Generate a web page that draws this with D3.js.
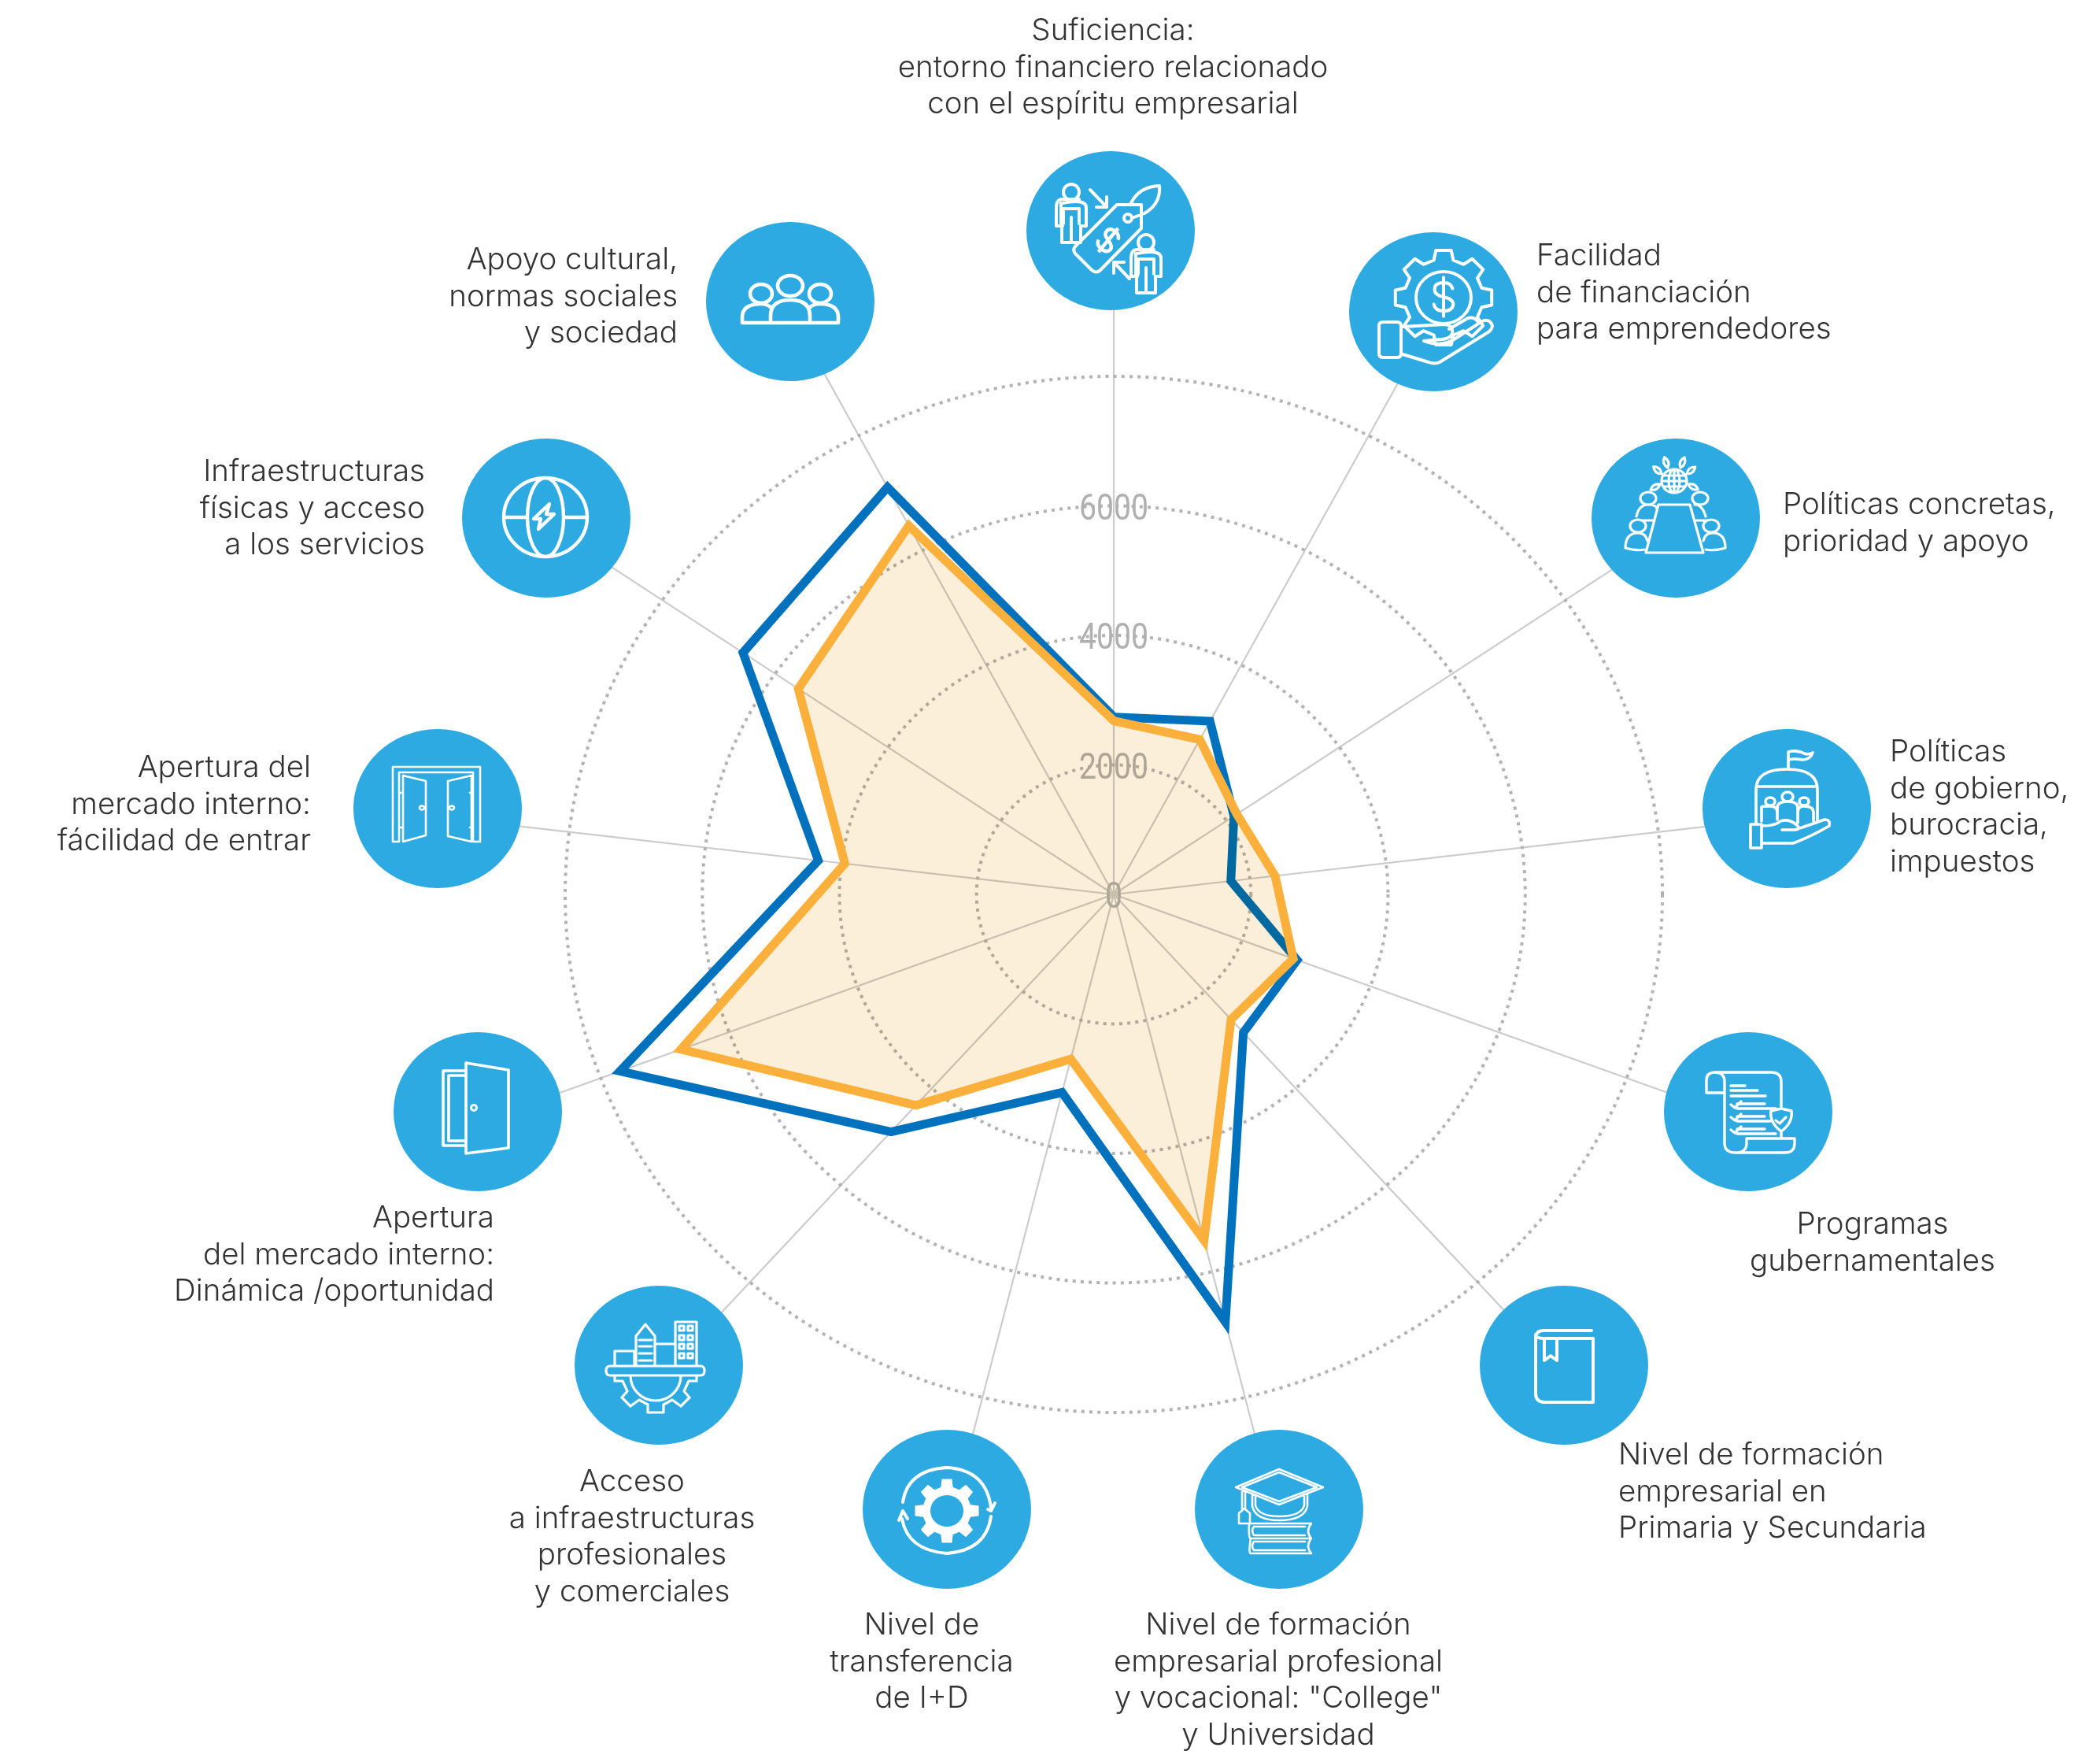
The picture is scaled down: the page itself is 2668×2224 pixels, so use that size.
<!DOCTYPE html>
<html><head><meta charset="utf-8">
<script src="https://cdn.jsdelivr.net/npm/d3@7"></script>
<style>html,body{margin:0;padding:0;background:#fff}svg{display:block}</style></head>
<body><svg id="c" width="2668" height="2224"></svg>
<script>
// ---- data ----
const categories = ["Suficiencia","Facilidad de financiación","Políticas concretas","Políticas de gobierno","Programas gubernamentales","Formación Primaria y Secundaria","Formación profesional y Universidad","Transferencia I+D","Infraestructuras profesionales","Apertura: dinámica","Apertura: facilidad","Infraestructuras físicas","Apoyo cultural"];
const seriesBlue = [2740,3020,2130,1720,2860,2850,6800,3150,4900,7700,4340,6570,7100];
const seriesOrange = [2680,2700,2180,2370,2800,2580,5500,2620,4350,6750,3950,5590,6430];
const tickValues = [2000,4000,6000,8000];
const tickLabels = ["0","2000","4000","6000"];
const labelLines = [
 ["Suficiencia:","entorno financiero relacionado","con el espíritu empresarial"],
 ["Facilidad","de financiación","para emprendedores"],
 ["Políticas concretas,","prioridad y apoyo"],
 ["Políticas","de gobierno,","burocracia,","impuestos"],
 ["Programas","gubernamentales"],
 ["Nivel de formación","empresarial en","Primaria y Secundaria"],
 ["Nivel de formación","empresarial profesional","y vocacional: \"College\"","y Universidad"],
 ["Nivel de","transferencia","de I+D"],
 ["Acceso","a infraestructuras","profesionales","y comerciales"],
 ["Apertura","del mercado interno:","Dinámica /oportunidad"],
 ["Apertura del","mercado interno:","fácilidad de entrar"],
 ["Infraestructuras","físicas y acceso","a los servicios"],
 ["Apoyo cultural,","normas sociales","y sociedad"]
];
// ---- layout ----
const cx=1415, cy=1136, W=2668;
const labelAnchor=["middle","start","start","start","middle","start","middle","middle","middle","end","end","end","end"];
const labelX=[1414,1952,2265,2401,2379,2056,1624,1171,803,628,395,540,861];
const labelY=[51,337,653,967,1567,1860,2076,2076,1894,1559,987,611,342];
const labelEndShift=[0,0,0,0,0,0,0,0,0,0,0,0,0];
const iconXY=[[1411,293],[1821,396],[2129,658],[2270,1027],[2221,1412],[1987,1734],[1625,1917],[1203,1917],[837,1734],[607,1412],[556,1027],[694,658],[1004,383]];
const BLUE="#0071BC", ORANGE="#FBB03B", CIRCLE="#2DAAE1", GRID="#CCCCCC", RING="#B3B3B3", TXT="#333333";
const rx=d3.scaleLinear().domain([0,8000]).range([0,697]);
const ry=d3.scaleLinear().domain([0,8000]).range([0,658]);
const angle=d3.scaleLinear().domain([0,categories.length]).range([0,2*Math.PI]);
const px=(v,i)=>cx+rx(v)*Math.sin(angle(i));
const py=(v,i)=>cy-ry(v)*Math.cos(angle(i));
const svg=d3.select("#c");
// axes
svg.append("g").selectAll("line").data(categories).join("line")
 .attr("x1",cx).attr("y1",cy).attr("x2",(d,i)=>px(9500,i)).attr("y2",(d,i)=>py(9500,i))
 .attr("stroke",GRID).attr("stroke-width",2.2);
// rings
svg.append("g").selectAll("ellipse").data(tickValues).join("ellipse")
 .attr("cx",cx).attr("cy",cy).attr("rx",d=>rx(d)).attr("ry",d=>ry(d))
 .attr("fill","none").attr("stroke",RING).attr("stroke-width",4).attr("stroke-dasharray","4 6.2");
// tick labels
svg.append("g").selectAll("text").data(tickLabels).join("text")
 .text(d=>d).attr("x",cx).attr("y",(d,i)=>cy-ry(i*2000)+17)
 .attr("text-anchor","middle").attr("font-family","'Liberation Sans Narrow','Roboto','Liberation Sans',sans-serif")
 .attr("font-size",47).attr("fill","#B0B0B0")
 .attr("textLength",d=>d.length*22).attr("lengthAdjust","spacingAndGlyphs");
// series
const line=d3.line().x((d,i)=>px(d,i)).y((d,i)=>py(d,i)).curve(d3.curveLinearClosed);
svg.append("path").attr("d",line(seriesBlue)).attr("fill","none").attr("stroke",BLUE).attr("stroke-width",11).attr("stroke-linejoin","miter").attr("stroke-miterlimit",10);
svg.append("path").attr("d",line(seriesOrange)).attr("fill","#FCEFD9").style("mix-blend-mode","multiply");
svg.append("path").attr("d",line(seriesOrange)).attr("fill","none").attr("stroke",ORANGE).attr("stroke-width",11).attr("stroke-linejoin","miter").attr("stroke-miterlimit",10);
// circles
const ig=svg.append("g").selectAll("g").data(iconXY).join("g").attr("transform",d=>`translate(${d[0]},${d[1]})`);
ig.append("ellipse").attr("rx",107).attr("ry",101).attr("fill",CIRCLE);
// ---- icon helpers ----
function gear(cx,cy,ro,ri,n,rxk=1,ryk=1){
 let p="";const s=Math.PI*2/n;
 for(let k=0;k<n;k++){const a=k*s-Math.PI/2;
  const pts=[[ri,a-s*.32],[ro,a-s*.2],[ro,a+s*.2],[ri,a+s*.32]];
  pts.forEach((q,j)=>{const x=cx+q[0]*Math.cos(q[1])*rxk,y=cy+q[0]*Math.sin(q[1])*ryk;p+=(k==0&&j==0?"M":"L")+x.toFixed(1)+","+y.toFixed(1);});
 }
 return p+"Z";
}
const ell=(x,y,a,b)=>`M${x-a},${y}A${a},${b} 0 1,0 ${x+a},${y}A${a},${b} 0 1,0 ${x-a},${y}Z`;
const person=(x,y)=>ell(x,y,10,10)+`M${x-10},${y+40}V${y+21}H${x+10}V${y+40}M${x-10},${y+21}M${x-13},${y+43}V${y+14}H${x-11}Q${x+19},${y+8} ${x+19},${y+20}V${y+43}H${x+12}M${x-19},${y+43}H${x-11}M${x-19},${y+43}V${y+20}Q${x-19},${y+9} ${x-11},${y+9}H${x+10}M${x-12},${y+43}V${y+64}H${x+12}V${y+43}M${x},${y+32}V${y+64}`;
const dollar=(x,y,s=1)=>`M${x+12*s},${y-11*s}Q${x+10*s},${y-19*s} ${x},${y-19*s}Q${x-12*s},${y-19*s} ${x-12*s},${y-10*s}Q${x-12*s},${y-2*s} ${x},${y}Q${x+13*s},${y+3*s} ${x+13*s},${y+10*s}Q${x+12*s},${y+19*s} ${x},${y+19*s}Q${x-11*s},${y+19*s} ${x-13*s},${y+10*s}M${x},${y-26*s}V${y+26*s}`;
const leaf=(x,y,a)=>{const r=7;const c=Math.cos(a),s=Math.sin(a);const ex=x+c*r*2,ey=y+s*r*2;return `M${x},${y}Q${x+c*r-s*6},${y+s*r+c*6} ${ex},${ey}Q${x+c*r+s*6},${y+s*r-c*6} ${x},${y}Z`;};
const icons=[
 {w:4,d:[person(-50,-49),person(45,15),
  "M8,-33H39V-3L-13,50Q-18,55 -24,50L-44,30Q-49,25 -45,20Z",ell(22,-16,5,5),
  "M26,-35Q36,-56 62,-57Q64,-34 43,-22L27,-16",
  "M-26,-52L-5,-30M-5,-43V-30H-18","M24,61L4,40M4,54V40H17"],
  extra:`<g transform="translate(-3,12) rotate(40)"><path d="${dollar(0,0,.75)}" stroke-width="4.5"/></g>`},
 {w:4,d:[gear(13,-18,62,50,8,1,.98),ell(13,-18,35,33),dollar(13,-19,.95),
  "M-69,18Q-69,13 -64,13H-46Q-41,13 -41,18V53Q-41,58 -46,58H-64Q-69,58 -69,53Z",
  "M-39,19L14,16Q26,17 24,28Q20,35 10,35L-12,37Q10,46 28,34L62,12Q72,8 75,18Q74,24 68,27L8,64Q2,67 -6,64L-39,54",
  "M20,22L44,8Q52,6 56,12"]},
 {w:3.2,d:["M-22,-17H18L35,44H-38Z",ell(-35,-25,10,8),ell(31,-25,10,8),ell(-48,10,10,8),ell(45,10,10,8),
  "M-50,-2Q-47,-17 -35,-17Q-25,-17 -24,-12M38,-2Q34,-17 24,-17M-64,38Q-64,19 -48,19Q-38,19 -36,29M-64,38Q-50,42 -40,40M63,38Q63,19 47,19Q37,19 35,29M63,38Q50,42 38,40M-42,3H-28M40,3H26",
  ell(-2,-47,16,15),ell(-2,-47,7,15),"M-18,-47H14M-16,-54H12M-16,-40H12M-2,-62V-32",
  leaf(-20,-43,2.6),leaf(-18,-56,-2.4),leaf(-10,-64,-1.9),leaf(6,-64,-1.2),leaf(14,-56,-.7),leaf(16,-43,.5)].map(s=>s),sw:[]},
 {w:3.6,d:["M-39,20V-24Q-39,-50 0,-50Q39,-50 39,-24V16M-37,-28H37M2,-50V-72Q12,-75 22,-70Q28,-68 33,-71Q30,-62 20,-62Q10,-64 2,-62",
  ell(-21,-9,6,5),ell(1,-15,7,6),ell(22,-9,6,5),
  "M-32,16V-2Q-32,-3 -21,-3Q-12,-3 -12,5V14M-12,14V-1Q-12,-9 1,-9Q14,-9 14,-1V18M14,5Q14,-3 22,-3Q34,-3 34,5V16",
  "M-46,20H-32V50H-46ZM-32,22Q-14,22 -8,16Q4,12 14,22Q18,27 10,27H-6M10,27Q20,24 48,14Q56,14 54,22Q30,36 8,44H-32"]},
 {w:3.4,d:["M-30,-24V40Q-30,52 -16,52Q-2,52 -2,40V34H59V40Q59,52 47,52H-16M-30,-24H-53V-40Q-53,-50 -42,-50Q-30,-50 -30,-38V-24M-42,-50H29Q42,-50 42,-38V-6",
  "M-22,-33H-4M-22,-27H12M-22,-20H22M-14,-10H21M-14,-4H35M-14,6H21M-14,12H28M-14,22H21M-14,28H35",
  "M-22,-9L-17,-5L-9,-13M-22,7L-17,11L-9,3M-22,23L-17,27L-9,19",
  "M42,-4L55,-1Q57,14 42,25Q27,14 29,-1ZM35,11L40,15L48,7M42,25V34"]},
 {w:4,d:["M-26,-44H35M-26,-44Q-36,-44 -36,-34V36Q-36,47 -24,47H37V-34H-26Q-36,-34 -36,-39","M-25,-34V-6L-17,-12L-9,-6V-34"]},
 {w:2.6,d:["M0,-51L56,-28L0,-6L-55,-28Z","M0,-47L48,-28L0,-10L-47,-28Z",
  "M-34,-19V-4Q-30,14 0,14Q32,14 36,-4V-19","M-30,-17V-5Q-26,9 0,9Q28,9 32,-5V-17",
  "M-47,-25V0M-43,-24V0M-51,18V5L-44,-1L-37,5V18Z",
  "M-36,18H41M-36,37H41M-36,56H41M-38,18Q-39,37 -36,37M-32,22H33M-32,33H33M-36,37Q-39,56 -36,56M-32,41H33M-32,52H33M41,18Q33,28 41,37Q33,47 41,56M-32,22Q-36,27 -32,33M-32,41Q-36,47 -32,52"]},
 {w:4,d:["M-56,-9Q-50,-50 0,-53Q50,-50 56,-2","M56,9Q50,52 0,56Q-50,52 -57,12","M52,0L56,2L61,-8M-61,14L-56,2L-50,12"],
  fill:gear(0,2,41,31,8)+ell(0,2,21,20)},
 {w:3.2,d:["M-62,1H53Q58,1 58,7Q58,13 53,13H-62Q-67,13 -67,7Q-67,1 -62,1Z","M-56,1V-18H-31V1","M-29,1V-37L-17,-52L-5,-37V1","M-5,-27H21M-17,-27M21,1V-55H48V1",
  "M-25,-32H-9M-25,-24H-9M-25,-15H-9M-25,-6H-9",
  "M26,-50h6v6h-6zM37,-50h6v6h-6zM26,-38h6v6h-6zM37,-38h6v6h-6zM26,-27h6v6h-6zM37,-27h6v6h-6zM26,-15h6v6h-6zM37,-15h6v6h-6z",
  "M-36,13A32,32 0 0,0 28,13","M-56,13V20H-46L-40,33L-47,41L-36,52L-25,44L-14,50L-14,60H6L6,50L17,44L28,52L39,41L32,33L38,20H48V13"]},
 {w:3.6,d:["M-44,-52H-15V43H-44Z","M-37,-46H-15V37H-37Z","M-15,-62L39,-53V46L-15,53Z"],extra2:ell(-5,-5,3.5,3.5)},
 {w:2.6,d:["M-57,-53H54V42H45V-46H-49V42H-57Z","M-44,-42L-15,-35V34L-44,42Z","M43,-42L13,-35V35L43,42Z",ell(-20,-1,3,2.5),ell(18,-1,3,2.5),"M-49,-20H-44M-49,24H-44M45,-20H41M45,24H41"]},
 {w:4.4,d:[ell(-1,-1,53,50),ell(-1,-1,23,50),"M-53,-1H-24M22,-1H52","M4,-18L-16,1H-7L-10,14L10,-5H0Z"]},
 {w:4.6,d:[ell(0,-20,16,13),ell(-37,-10,14,12),ell(38,-10,14,12),
  "M-61,27H61V20Q61,3 38,3Q29,3 24,8M-61,27V20Q-61,3 -37,3Q-29,3 -24,8M-25,27V18Q-25,-2 0,-2Q25,-2 25,18V27"]}
];
ig.each(function(d,i){
 const g=d3.select(this), ic=icons[i];
 g.append("path").attr("d",ic.d.join("")).attr("fill","none").attr("stroke","#fff").attr("stroke-width",ic.w).attr("stroke-linejoin","round").attr("stroke-linecap","round");
 if(ic.fill) g.append("path").attr("d",ic.fill).attr("fill","#fff").attr("fill-rule","evenodd");
 if(ic.extra) g.append("g").attr("fill","none").attr("stroke","#fff").html(ic.extra);
 if(ic.extra2) g.append("path").attr("d",ic.extra2).attr("fill","none").attr("stroke","#fff").attr("stroke-width",3);
});
// category labels
const lh=46.6;
labelLines.forEach((lines,i)=>{
 svg.append("text").attr("font-family","Inter,'Open Sans',sans-serif").attr("font-weight",300).attr("font-size",38.5).attr("fill",TXT).attr("text-anchor",labelAnchor[i])
  .selectAll("tspan").data(lines).join("tspan").attr("x",labelX[i]).attr("y",(d,k)=>labelY[i]+k*lh).text(d=>d);
});
</script></body></html>
